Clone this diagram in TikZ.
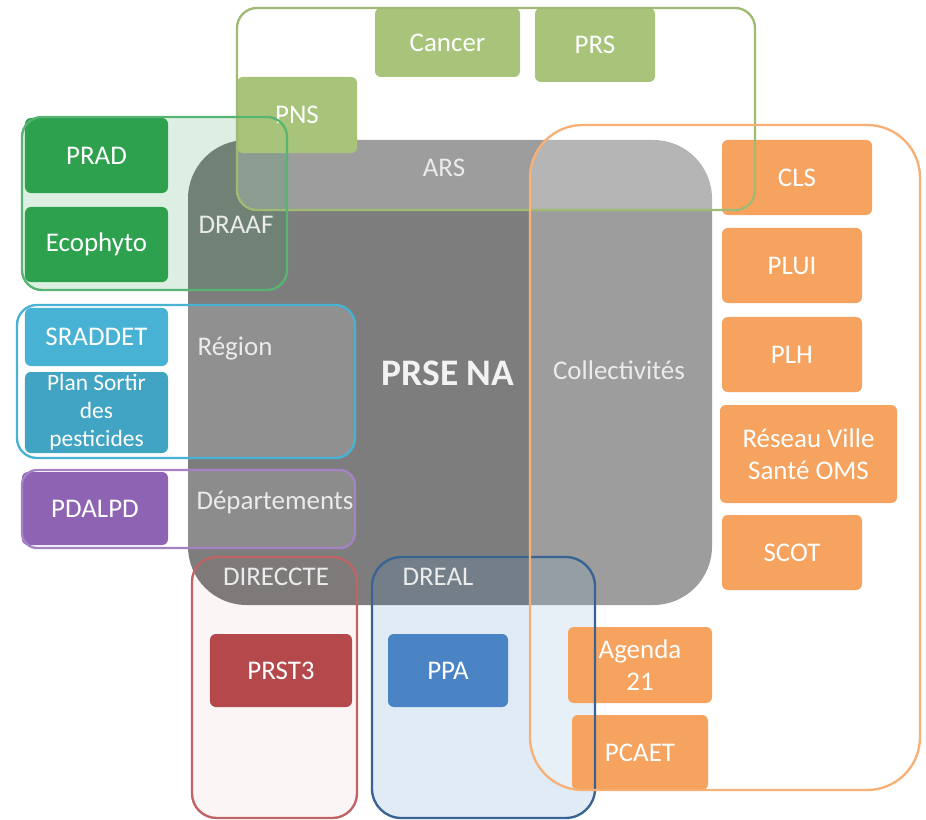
\documentclass[tikz,border=0pt]{standalone}
\usepackage{fontspec}
\setmainfont{Carlito}
\definecolor{gris}{HTML}{7D7D7D}
\definecolor{olive}{HTML}{A8C47A}
\definecolor{vert}{HTML}{2EA14F}
\definecolor{ciel}{HTML}{47B2D4}
\definecolor{violet}{HTML}{8E63B4}
\definecolor{rouge}{HTML}{B5484A}
\definecolor{bleu}{HTML}{4A84C4}
\definecolor{orange}{HTML}{F5A35E}
\tikzset{
  box/.style={rounded corners=5pt,text=white,align=center,inner sep=2pt,
    font=\fontsize{23}{27}\selectfont},
  lbl/.style={text=white!92!black,font=\fontsize{23}{27}\selectfont},
  cadre/.style={line width=2pt,rounded corners=#1},
  cadre/.default=17pt
}
\begin{document}
\begin{tikzpicture}[x=0.03cm,y=-0.03cm,line join=round]
\useasboundingbox[fill=white] (0,0) rectangle (926,820);
% fond PRSE
\fill[gris,rounded corners=50pt] (188,140) rectangle (712,605);
% fonds des cadres
\fill[white,opacity=.25,rounded corners=17pt] (237,8) rectangle (755,210);
\fill[vert,opacity=.16,rounded corners=17pt] (22,117) rectangle (287,290);
\fill[white,opacity=.15,rounded corners=17pt] (17,305) rectangle (355,458);
\fill[white,opacity=.12,rounded corners=13pt] (22,470) rectangle (355,548);
\fill[rouge,opacity=.05,rounded corners=21pt] (192,557) rectangle (357,818);
\fill[bleu,opacity=.16,rounded corners=25pt] (372,557) rectangle (595,818);
\fill[white,opacity=.25,rounded corners=45pt] (530,125) rectangle (920,790);
% ARS
\node[box,fill=olive,minimum width=4.35cm,minimum height=2.07cm] (cancer) at (447.5,42.5) {Cancer};
\node[box,fill=olive,minimum width=3.6cm,minimum height=2.22cm] (prs) at (595,45) {PRS};
\node[box,fill=olive,minimum width=3.6cm,minimum height=2.28cm] (pns) at (297,115) {PNS};
% DRAAF
\node[box,fill=vert,minimum width=4.29cm,minimum height=2.25cm] (prad) at (96.5,155.5) {PRAD};
\node[box,fill=vert,minimum width=4.29cm,minimum height=2.25cm] (ecophyto) at (96.5,244.5) {Ecophyto};
% Region
\node[box,fill=ciel,minimum width=4.29cm,minimum height=1.74cm] (sraddet) at (96.5,337) {SRADDET};
\node[box,fill=ciel!92!black,minimum width=4.29cm,minimum height=2.43cm,
  font=\fontsize{20}{24}\selectfont] (sortir) at (96.5,412.5) {Plan Sortir\\des\\pesticides};
% Departements
\node[box,fill=violet,minimum width=4.38cm,minimum height=2.19cm] (pdalpd) at (95,508.5) {PDALPD};
% DIRECCTE et DREAL
\node[box,fill=rouge,minimum width=4.26cm,minimum height=2.19cm] (prst) at (281,670.5) {PRST3};
\node[box,fill=bleu,minimum width=3.6cm,minimum height=2.19cm] (ppa) at (448,670.5) {PPA};
% Collectivites
\foreach \n/\t/\x/\y/\w/\h in {cls/CLS/797/177.5/4.5/2.25,plui/PLUI/792/265.5/4.2/2.25,
  plh/PLH/792/354.5/4.2/2.25,rvs/{R\'eseau Ville\\Sant\'e OMS}/808.5/454/5.31/2.94,
  scot/SCOT/792/552.5/4.2/2.25,agenda/{Agenda\\21}/640/665/4.32/2.28,pcaet/PCAET/640/752.5/4.08/2.25}
  \node[box,fill=orange,minimum width=\w cm,minimum height=\h cm] (\n) at (\x,\y) {\t};
% contours des cadres
\draw[cadre,olive!95!black] (237,8) rectangle (755,210);
\draw[cadre,vert!80!white] (22,117) rectangle (287,290);
\draw[cadre,ciel] (17,305) rectangle (355,458);
\draw[cadre=13pt,violet!80!white] (22,470) rectangle (355,548);
\draw[cadre=21pt,rouge!85!white] (192,557) rectangle (357,818);
\draw[cadre=25pt,bleu!75!black] (372,557) rectangle (595,818);
\draw[cadre=45pt,orange!85!white] (530,125) rectangle (920,790);
% etiquettes
\node[lbl] (ars) at (444,168) {ARS};
\node[lbl] (draaf) at (236,225) {DRAAF};
\node[lbl] (region) at (235,349) {R\'egion};
\node[lbl] (dep) at (275,502) {D\'epartements};
\node[lbl] (direccte) at (276,577) {DIRECCTE};
\node[lbl] (dreal) at (438,577) {DREAL};
\node[lbl] (coll) at (619,370) {Collectivit\'es};
\node[text=white!95!black,font=\fontsize{32}{36}\selectfont\bfseries] (prse) at (448,373) {PRSE NA};
\end{tikzpicture}
\end{document}
